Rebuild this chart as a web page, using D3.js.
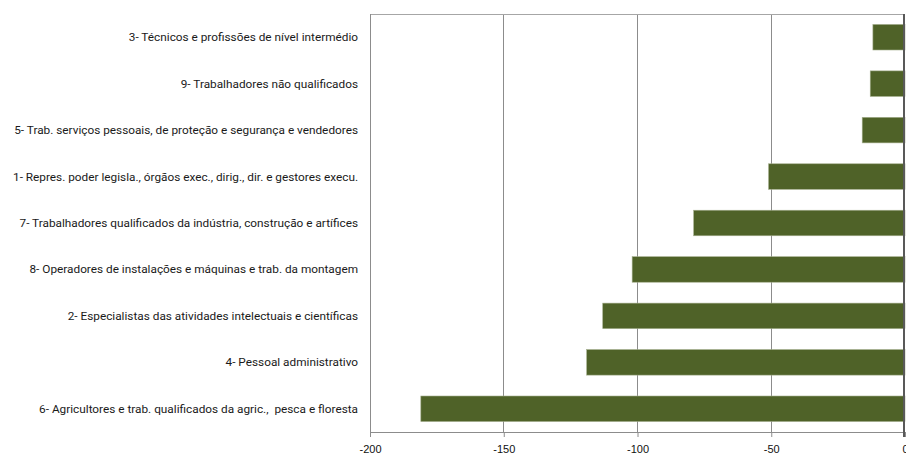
<!DOCTYPE html>
<html><head><meta charset="utf-8">
<script src="https://cdn.jsdelivr.net/npm/d3@7"></script>
<style>body{margin:0;background:#fff}svg{display:block}text{white-space:pre}</style>
</head><body>
<script>
const categories = [
  "3- Técnicos e profissões de nível intermédio",
  "9- Trabalhadores não qualificados",
  "5- Trab. serviços pessoais, de proteção e segurança e vendedores",
  "1- Repres. poder legisla., órgãos exec., dirig., dir. e gestores execu.",
  "7- Trabalhadores qualificados da indústria, construção e artífices",
  "8- Operadores de instalações e máquinas e trab. da montagem",
  "2- Especialistas das atividades intelectuais e científicas",
  "4- Pessoal administrativo",
  "6- Agricultores e trab. qualificados da agric.,  pesca e floresta"
];
const values = [-12, -13, -16, -51, -79, -102, -113, -119, -181];
const xTicks = [-200, -150, -100, -50, 0];
const xTickLabels = ["-200", "-150", "-100", "-50", "0"];

const W = 906, H = 458;
const m = {left: 370, right: 1, top: 14, bottom: 26};
const svg = d3.select("body").append("svg").attr("width", W).attr("height", H);

const x = d3.scaleLinear().domain([-200, 0]).range([m.left, W - m.right]);
const y = d3.scaleBand().domain(categories).range([m.top, H - m.bottom]).paddingInner(0.45).paddingOuter(0.225);

// gridlines
svg.append("g").selectAll("line").data(xTicks.slice(1, -1)).join("line")
  .attr("x1", d => x(d)).attr("x2", d => x(d))
  .attr("y1", m.top).attr("y2", H - m.bottom)
  .attr("stroke", "#8c8c8c").attr("stroke-width", 1).attr("shape-rendering", "crispEdges");

// frame top / left
svg.append("line").attr("x1", m.left).attr("x2", W - m.right).attr("y1", m.top + 0.5).attr("y2", m.top + 0.5)
  .attr("stroke", "#a6a6a6").attr("stroke-width", 1);
svg.append("line").attr("x1", m.left + 0.5).attr("x2", m.left + 0.5).attr("y1", m.top).attr("y2", H - m.bottom)
  .attr("stroke", "#8c8c8c").attr("stroke-width", 1);

// bars
svg.append("g").selectAll("rect").data(values).join("rect")
  .attr("x", d => x(d)).attr("width", d => x(0) - x(d))
  .attr("y", (d, i) => y(categories[i])).attr("height", y.bandwidth())
  .attr("fill", "#4f6228").attr("stroke", "#a3ad8c").attr("stroke-width", 0.6);

// bottom axis
const xAxis = d3.axisBottom(x).tickValues(xTicks).tickSize(5)
  .tickFormat((d, i) => xTickLabels[i]);
const gx = svg.append("g").attr("transform", `translate(0,${H - m.bottom})`).call(xAxis);
gx.select(".domain").attr("stroke", "#8c8c8c");
gx.selectAll(".tick line").attr("stroke", "#8c8c8c");
gx.selectAll(".tick text").attr("fill", "#111").attr("font-family", "Liberation Sans, Arial, sans-serif")
  .attr("font-size", 11).attr("dy", "1.2em");

// zero axis line
svg.append("line").attr("x1", x(0) - 1).attr("x2", x(0) - 1).attr("y1", m.top).attr("y2", H - m.bottom + 5)
  .attr("stroke", "#595959").attr("stroke-width", 2);

// category labels
svg.append("g").selectAll("text").data(categories).join("text")
  .attr("x", m.left - 12).attr("y", d => y(d) + y.bandwidth() / 2)
  .attr("text-anchor", "end").attr("dominant-baseline", "central")
  .attr("font-family", "Roboto, sans-serif").attr("font-size", 11.8).attr("fill", "#1a1a1a")
  .text(d => d);
</script>
</body></html>
